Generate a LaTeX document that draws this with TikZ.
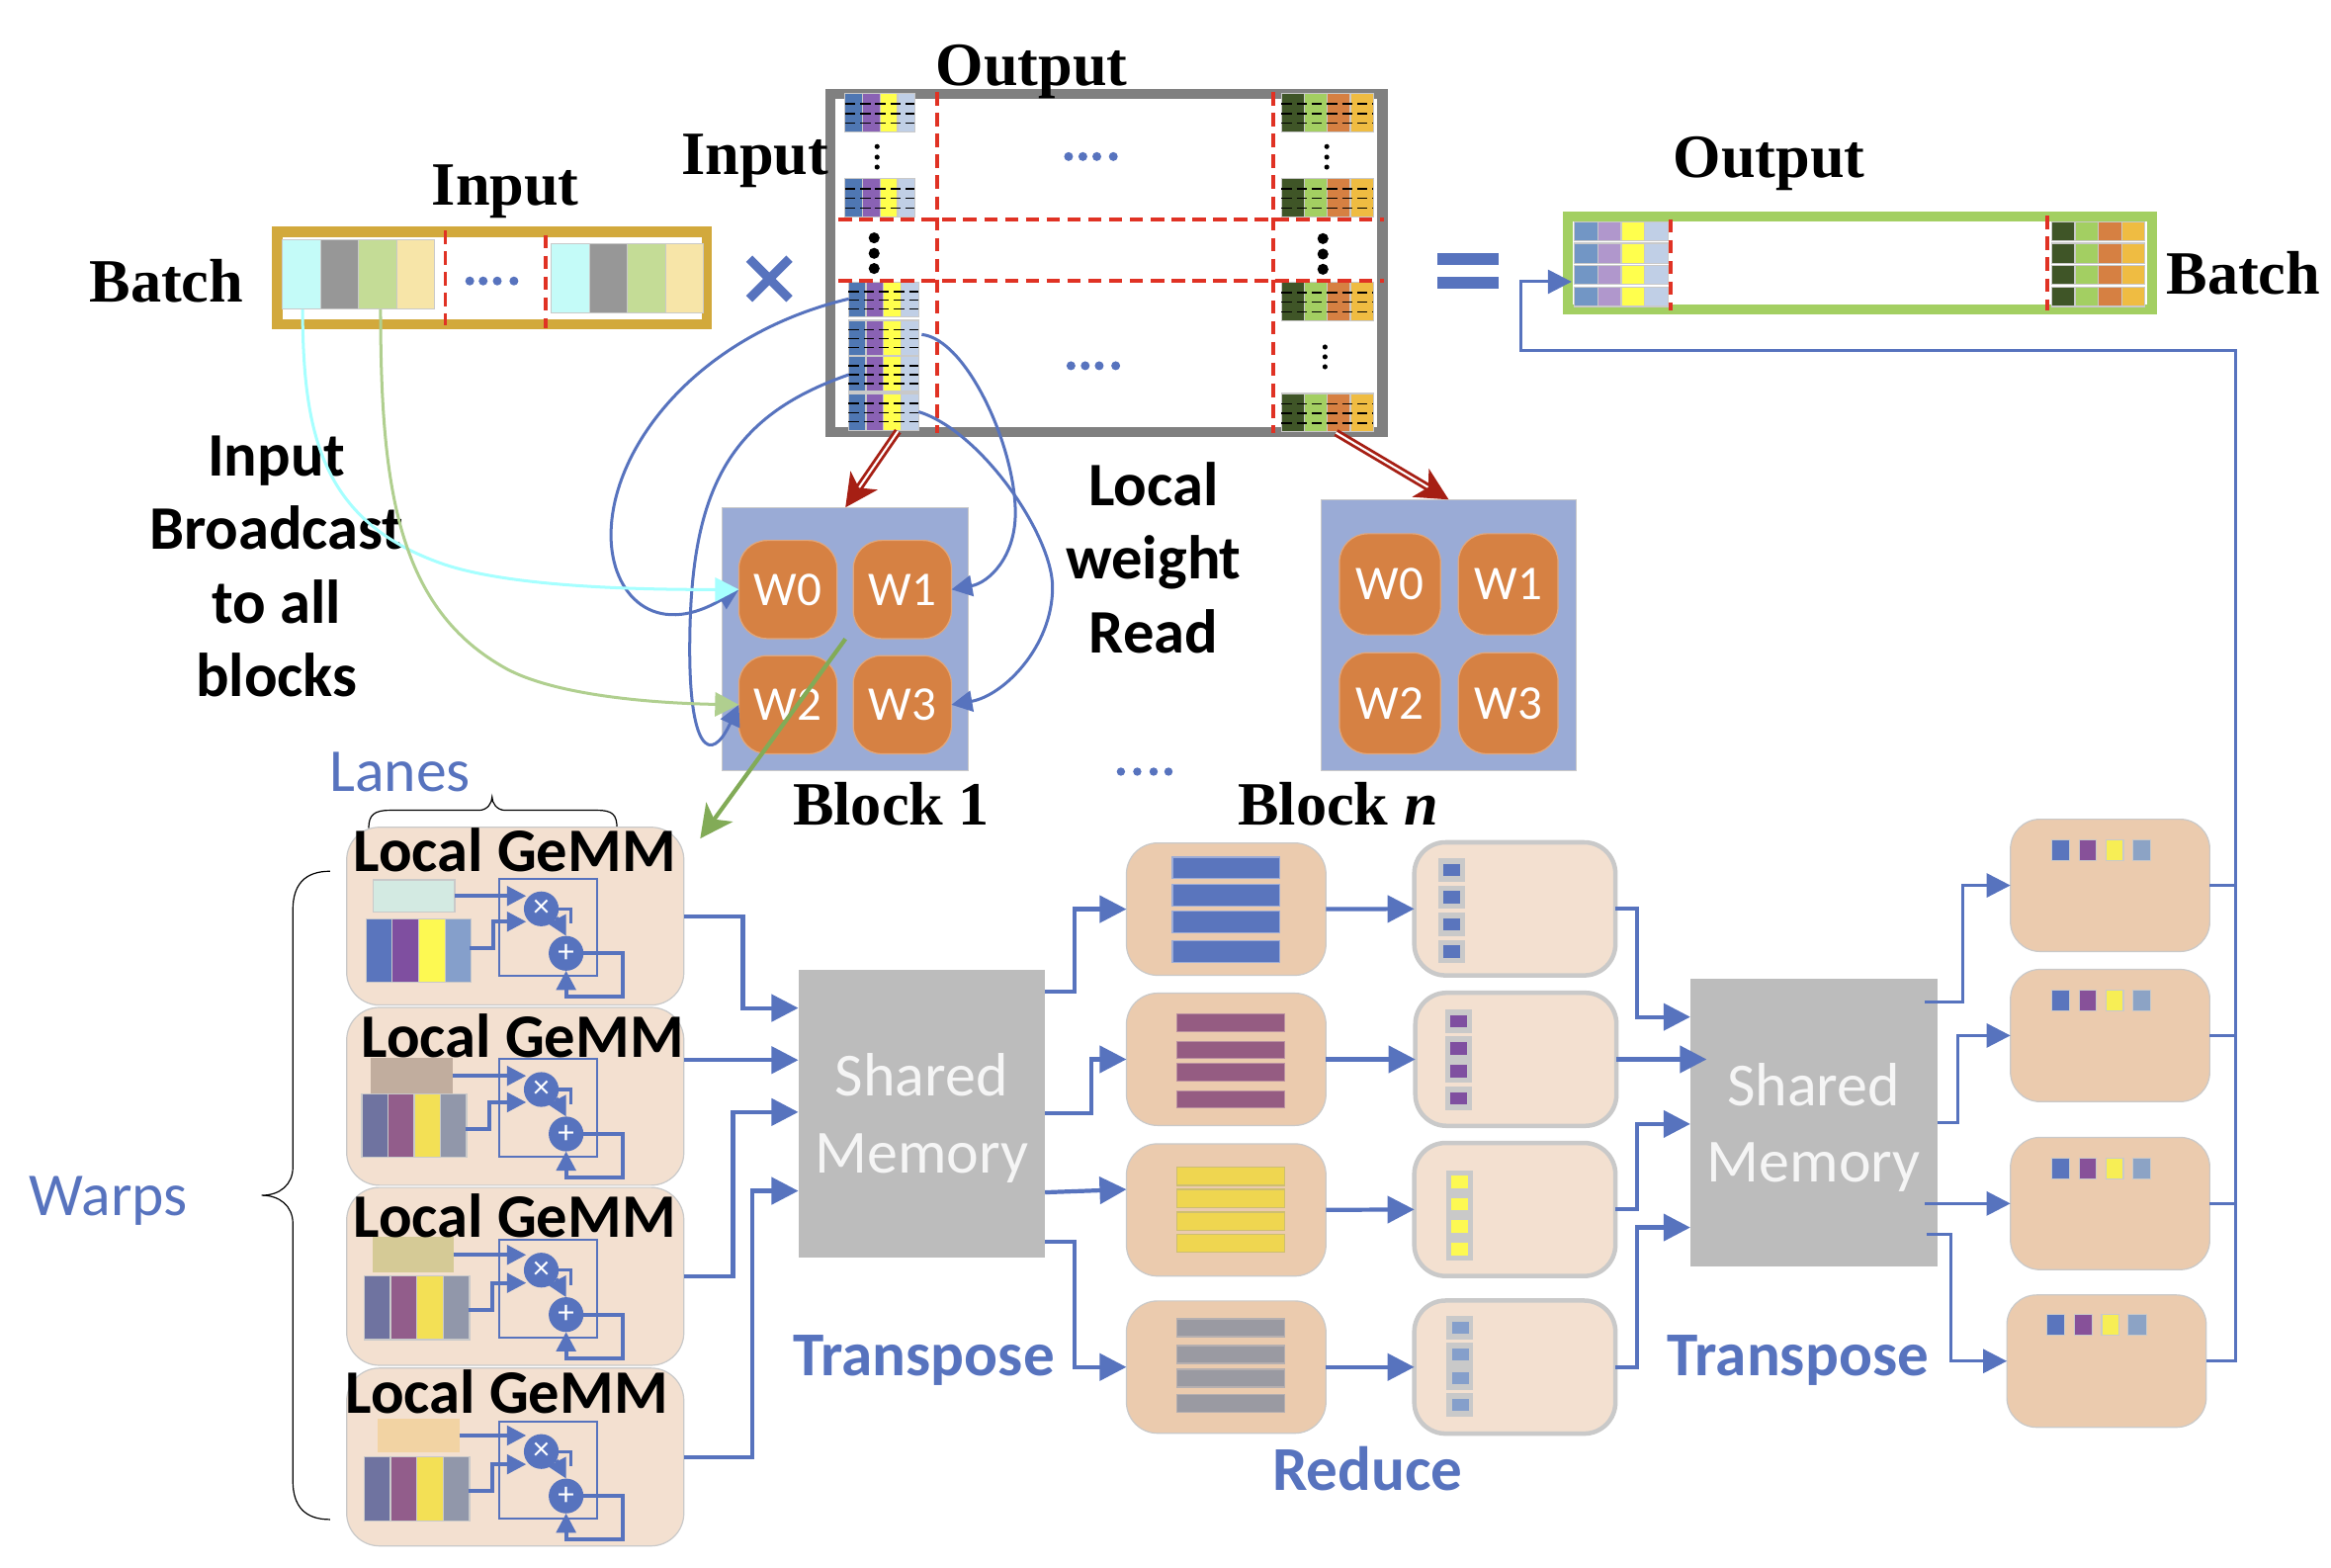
\documentclass[tikz,border=0pt]{standalone}
\usepackage{fontspec}
\setmainfont{Liberation Serif}
\newfontfamily\calfont{Carlito}
\usetikzlibrary{arrows.meta}
\definecolor{wblue}{HTML}{5773BE}
\definecolor{wgold}{HTML}{D2A93C}
\definecolor{wred}{HTML}{E03224}
\definecolor{wdarkred}{HTML}{A61F14}
\definecolor{wgray}{HTML}{808080}
\definecolor{wgreen}{HTML}{A3CF62}
\definecolor{woutline}{HTML}{C9C9C9}
\definecolor{wcyan}{HTML}{A6FFFF}
\definecolor{wsage}{HTML}{B0CF8F}
\definecolor{wmoss}{HTML}{82AB57}
\definecolor{mblue}{HTML}{4F77B3}
\definecolor{mpurple}{HTML}{8A62B4}
\definecolor{myellow}{HTML}{FFFF4D}
\definecolor{mlight}{HTML}{C0CFE6}
\definecolor{ndark}{HTML}{3F5527}
\definecolor{norange}{HTML}{D68042}
\definecolor{ngold}{HTML}{EFBC42}
\definecolor{iblue}{HTML}{C4FBF8}
\definecolor{igray}{HTML}{979797}
\definecolor{igreen}{HTML}{C4DC96}
\definecolor{ibeige}{HTML}{F7E5A8}
\definecolor{oblue}{HTML}{7296C5}
\definecolor{opurple}{HTML}{B097CC}
\definecolor{gblue}{HTML}{5A75BD}
\definecolor{gpurple}{HTML}{7F4FA0}
\definecolor{gyellow}{HTML}{FDF952}
\definecolor{gsteel}{HTML}{859FCB}
\definecolor{hblue}{HTML}{6F73A0}
\definecolor{hpurple}{HTML}{925D8B}
\definecolor{hyellow}{HTML}{F3E055}
\definecolor{hgray}{HTML}{9197AA}
\definecolor{redpurple}{HTML}{955C82}
\definecolor{redyellow}{HTML}{EFD650}
\definecolor{redgray}{HTML}{9A9AA2}
\definecolor{lpurple}{HTML}{875199}
\definecolor{lyellow}{HTML}{F7EE55}
\definecolor{lsteel}{HTML}{8CA3C5}
\definecolor{peach}{HTML}{F3E0D0}
\definecolor{tanbox}{HTML}{EBCBAE}
\definecolor{tile}{HTML}{D68143}
\definecolor{blockblue}{HTML}{9AABD6}
\definecolor{memgray}{HTML}{BCBCBC}
\definecolor{veca}{HTML}{D3EAE2}
\definecolor{vecb}{HTML}{C1AD9E}
\definecolor{vecc}{HTML}{D5CA96}
\definecolor{vecd}{HTML}{F2D3A3}
\tikzset{
 base/.style={inner sep=0pt,outer sep=0pt},
 boxwh/.style 2 args={base,minimum width=#1*0.5pt,minimum height=#2*0.5pt},
 serifbold/.style={font=\bfseries\fontsize{20.7}{24}\selectfont},
 sansbold/.style={font=\calfont\bfseries\fontsize{20.8}{24.75}\selectfont,align=center},
 sansblue/.style={font=\calfont\fontsize{20.5}{24}\selectfont,text=wblue},
 bluebold/.style={font=\calfont\bfseries\fontsize{21}{24.75}\selectfont,text=wblue},
 memtext/.style={font=\calfont\fontsize{20.6}{25.7}\selectfont,text=white!96!black,align=center},
 redline/.style={draw=wred,line width=1.25pt,dash pattern=on 4.5pt off 2.5pt},
 tinydash/.style={black,line width=0.45pt,dash pattern=on 3.5pt off 1.6pt},
 cell/.style={draw=woutline,line width=0.4pt},
 tilebox/.style={boxwh={66}{66},rounded corners=9.5pt,fill=tile,draw=tile!70!white,line width=0.4pt,
   text=white,font=\calfont\fontsize{16.3}{16}\selectfont},
 block/.style={fill=blockblue,draw=woutline,line width=0.3pt},
 gemmbox/.style={boxwh={226.8}{119.6},rounded corners=11pt,fill=peach,draw=woutline,line width=0.4pt},
 redbox/.style={boxwh={134.2}{89},rounded corners=10.5pt,fill=tanbox,draw=woutline,line width=0.4pt},
 sumbox/.style={boxwh={135.3}{89.5},rounded corners=10.5pt,fill=peach,draw=woutline,line width=1.5pt},
 lastbox/.style={boxwh={134.1}{89},rounded corners=10pt,fill=tanbox,draw=woutline,line width=0.4pt},
 memory/.style={boxwh={166}{194},fill=memgray},
 opnode/.style={base,circle,minimum size=11.7pt,fill=wblue,text=white,font=\calfont\fontsize{11}{11}\selectfont},
 conn/.style={draw=wblue,line width=1.4pt,-{Triangle[length=9pt,width=9pt]}},
 thinconn/.style={draw=wblue,line width=1pt,-{Triangle[length=8pt,width=8pt]}},
 busline/.style={draw=wblue,line width=1pt},
 curve/.style={draw=wblue,line width=1pt,-{Triangle[length=7pt,width=7pt]}},
 smallconn/.style={draw=wblue,line width=1.3pt,-{Triangle[length=6.5pt,width=6.5pt]}},
 readarrow/.style={draw=wdarkred,double=white,double distance=0.7pt,line width=0.95pt,
   -{Stealth[length=11pt,width=11pt,inset=3pt]}},
}
% four cells side by side: x0, width, y0, y1, colours
\newcommand{\cellrow}[8]{%
  \filldraw[cell,fill=#5] (#1,#3) rectangle ({#1+#2},#4);
  \filldraw[cell,fill=#6] ({#1+#2},#3) rectangle ({#1+2*#2},#4);
  \filldraw[cell,fill=#7] ({#1+2*#2},#3) rectangle ({#1+3*#2},#4);
  \filldraw[cell,fill=#8] ({#1+3*#2},#3) rectangle ({#1+4*#2},#4);
}
\newcommand{\dashes}[4]{%
  \foreach \f in {.27,.52,.77}
    \draw[tinydash] (#1,{#3+\f*(#4-#3)}) -- ++(#2,0);
}
\newcommand{\matleft}[3]{%
  \cellrow{#1}{11.8}{#2}{#3}{mblue}{mpurple}{myellow}{mlight}
  \dashes{#1}{47}{#2}{#3}
}
\newcommand{\matright}[2]{%
  \cellrow{861.9}{15.5}{#1}{#2}{ndark}{wgreen}{norange}{ngold}
  \dashes{861.9}{62}{#1}{#2}
}
% the adder and multiplier inside a GeMM box
\newcommand{\gemmcore}[4]{%
  \begin{scope}[shift={(0,#2)}]
    \draw[wblue,line width=0.65pt] (335.8,590.9) rectangle (401.8,656.5);
    \node[opnode] (mul#1) at (364.1,611.3) {×};
    \node[opnode] (add#1) at (380.8,641.2) {+};
    \coordinate (cellout#1) at (#3,638);
    \draw[smallconn] (cellout#1) -| (#4,619.9) -- (mul#1.210 |- 0,619.9);
    \draw[wblue,line width=1.1pt] (mul#1.east) -- ++(8,0) -- ++(0,10);
    \draw[smallconn] (mul#1.-30) -- (add#1.north);
    \draw[smallconn] (add#1.east) -| (418.9,670.4) -| (add#1.south);
  \end{scope}
}
\newcommand{\barrow}[5]{%
  \foreach \ya/\yb in {#5}
    \filldraw[fill=#1,draw=#2,line width=0.4pt] (#3,\ya) rectangle (#4,\yb);
}
\newcommand{\dotcell}[3]{%
  \fill[woutline] (#1,{#2-7.8}) rectangle ({#1+18},{#2+7.8});
  \fill[#3] ({#1+3.6},{#2-4.2}) rectangle ({#1+15},{#2+4.2});
}
\newcommand{\lastsquares}[2]{%
  \filldraw[cell,fill=gblue] (#1,#2) rectangle ({#1+12},{#2+14});
  \filldraw[cell,fill=lpurple] ({#1+18.5},#2) rectangle ({#1+30.3},{#2+14});
  \filldraw[cell,fill=lyellow] ({#1+36.7},#2) rectangle ({#1+48.4},{#2+14});
  \filldraw[cell,fill=lsteel] ({#1+54.4},#2) rectangle ({#1+66.8},{#2+14});
}

\begin{document}
\begin{tikzpicture}[x=0.5pt,y=-0.5pt]
    \useasboundingbox (0,0) rectangle (1568,1054);

    % batch input
    \node[boxwh={289.1}{62.1},draw=wgold,line width=3.45pt,fill=white] (inbox) at (331,187) {};
    \cellrow{190}{25.6}{161.4}{208}{iblue}{igray}{igreen}{ibeige}
    \cellrow{370.8}{25.6}{164}{210.6}{iblue}{igray}{igreen}{ibeige}
    \draw[redline] (299.6,155) -- (299.6,219);
    \draw[redline] (367,158) -- (367,221);
    \foreach \d in {316,325,334.5,345.7}
        \fill[wblue] (\d,189) circle (1.5pt);
    \coordinate (cellcyan) at (203.5,208);
    \coordinate (cellgreen) at (256,208);

    % weight matrix
    \node[boxwh={371.6}{227},draw=wgray,line width=3.4pt,fill=white] (matbox) at (744.2,176.9) {};
    \matleft{568.4}{62.7}{89}
    \matleft{568.4}{119.9}{145.8}
    \matleft{570.7}{190}{213}
    \matleft{570.7}{215.4}{239}
    \matleft{570.7}{239.8}{263.3}
    \matleft{570.7}{264.6}{289.4}
    \matright{62.7}{89}
    \matright{119.9}{145.8}
    \matright{190}{215.6}
    \matright{264.7}{290.4}
    \draw[redline] (630.6,62) -- (630.6,291.5);
    \draw[redline] (856.6,62) -- (856.6,291.5);
    \draw[redline] (564,147.4) -- (931,147.4);
    \draw[redline] (564,188.8) -- (931,188.8);
    \foreach \d in {98.6,105.7,112.4} {
        \fill (590,\d) circle (0.85pt);
        \fill (892.5,\d) circle (0.85pt);
    }
    \foreach \d in {233.4,240,246.7}
        \fill (891.3,\d) circle (0.85pt);
    \foreach \d in {160,170.4,180.6} {
        \fill (588,\d) circle (1.85pt);
        \fill (889.9,{\d+0.5}) circle (1.85pt);
    }
    \foreach \d in {718.8,728.4,737.8,748.9}
        \fill[wblue] (\d,105.3) circle (1.5pt);
    \foreach \d in {720.4,730,739.4,750.5}
        \fill[wblue] (\d,246) circle (1.5pt);

    % times and equals
    \draw[wblue,line width=3pt] (504,174) -- (531,201) (531,174) -- (504,201);
    \fill[wblue] (967,170) rectangle (1008,178);
    \fill[wblue] (967,186) rectangle (1008,194);

    % batch output
    \node[boxwh={393.1}{62.3},draw=wgreen,line width=3.3pt,fill=white] (outbox) at (1250.95,176.75) {};
    \foreach \ya/\yb in {149.2/161.8,163.6/177.3,178.4/191.3,193.3/206.1} {
        \cellrow{1059}{15.8}{\ya}{\yb}{oblue}{opurple}{myellow}{mlight}
        \cellrow{1380}{15.7}{\ya}{\yb}{ndark}{wgreen}{norange}{ngold}
    }
    \draw[redline] (1123.9,147.4) -- (1123.9,208.8);
    \draw[redline] (1377.3,145.2) -- (1377.3,208.8);

    % blocks
    \node[boxwh={165.8}{176.9},block] (block1) at (568.7,429.75) {};
    \node[tilebox] (w0) at (530,396.5) {W0};
    \node[tilebox] (w1) at (607,396.5) {W1};
    \node[tilebox] (w2) at (530,474) {W2};
    \node[tilebox] (w3) at (607,474) {W3};
    \node[boxwh={171}{182},block] (blockn) at (974.5,427) {};
    \node[tilebox,minimum width=34pt,minimum height=34pt] (nw0) at (935,393) {W0};
    \node[tilebox,minimum width=33.5pt,minimum height=34pt] (nw1) at (1014.5,393) {W1};
    \node[tilebox,minimum width=34pt,minimum height=34pt] (nw2) at (935,473) {W2};
    \node[tilebox,minimum width=33.5pt,minimum height=34pt] (nw3) at (1014.5,473) {W3};

    \coordinate (rowa) at (571,201);
    \coordinate (rowb) at (620,225);
    \coordinate (rowc) at (571,252);
    \coordinate (rowd) at (618,277);
    \draw[curve] (rowa) .. controls (470,225) and (411,300) .. (411,360)
        .. controls (411,400) and (440,430) .. (w0.west);
    \draw[curve] (rowc) .. controls (490,280) and (465,330) .. (464,430)
        .. controls (463,505) and (478,515) .. (w2.west);
    \draw[curve] (rowb) .. controls (650,228) and (683,300) .. (683,345)
        .. controls (683,375) and (665,392) .. (w1.east);
    \draw[curve] (rowd) .. controls (660,290) and (708,360) .. (708,395)
        .. controls (708,435) and (675,468) .. (w3.east);

    \coordinate (matfoot) at (604,290);
    \coordinate (matfootn) at (898.7,291);
    \draw[readarrow] (matfoot) -- (block1.north |- 0,341.3);
    \draw[readarrow] (matfootn) -- (blockn.north);

    % labels
    \node[serifbold] (lbinput) at (340,129) {Input};
    \node[serifbold] (lbbatch) at (112,189) {Batch};
    \node[serifbold] (lbinputb) at (508,108) {Input};
    \node[serifbold] (lboutput) at (694,48) {Output};
    \node[serifbold] (lboutputb) at (1190,110) {Output};
    \node[serifbold] (lbbatchb) at (1509,184) {Batch};
    \node[serifbold] (lbblock1) at (599.5,541) {Block 1};
    \node[serifbold] (lbblockn) at (900,541) {Block \textit{n}};
    \node[sansbold] (lbbroad) at (186,381) {Input\\Broadcast\\to all\\blocks};
    \node[sansbold] (lblocal) at (776,375) {Local\\weight\\Read};
    \node[sansblue] (lblanes) at (269,519) {Lanes};
    \node[sansblue] (lbwarps) at (73,808) {Warps};
    \foreach \d in {754,765,776,786}
        \fill[wblue] (\d,519) circle (1.4pt);

    % input broadcast
    \draw[draw=wcyan,line width=1pt,-{Triangle[length=8pt,width=8pt]}]
        (cellcyan) .. controls (204,290) and (215,350) .. (297,379)
        .. controls (340,394) and (420,396.7) .. (w0.west);
    \draw[draw=wsage,line width=1pt,-{Triangle[length=8pt,width=8pt]}]
        (cellgreen) .. controls (256,330) and (268,410) .. (341,450)
        .. controls (375,468) and (440,473) .. (w2.west);

    % braces
    \draw[line width=0.4pt] (248,557) .. controls (248,548) and (252,545) .. (262,545) -- (322,545)
        .. controls (328,545) and (331,540) .. (331,536)
        .. controls (331,540) and (334,545) .. (340,545) -- (402,545)
        .. controls (412,545) and (415,548) .. (415,557);
    \draw[line width=0.4pt] (222,586) .. controls (205,586) and (197,595) .. (197,612) -- (197,785)
        .. controls (197,797) and (188,804) .. (176,804)
        .. controls (188,804) and (197,811) .. (197,823) -- (197,996)
        .. controls (197,1013) and (205,1022) .. (222,1022);

    % local GeMM blocks
    \node[gemmbox] (gemm1) at (346.6,616.2) {};
    \node[gemmbox] (gemm2) at (346.6,737.4) {};
    \node[gemmbox] (gemm3) at (346.6,858.5) {};
    \node[gemmbox] (gemm4) at (346.6,980) {};
    \node[boxwh={54.9}{21.7},fill=veca,draw=woutline,line width=0.4pt] (vec1) at (278.4,602.6) {};
    \node[boxwh={55}{24.4},fill=vecb] (vec2) at (276.8,723.6) {};
    \node[boxwh={54}{24},fill=vecc] (vec3) at (278,844) {};
    \node[boxwh={55}{23},fill=vecd] (vec4) at (281.5,965.5) {};
    \cellrow{246.2}{17.7}{618}{660.5}{gblue}{gpurple}{gyellow}{gsteel}
    \cellrow{243.4}{17.6}{735.8}{778.6}{hblue}{hpurple}{hyellow}{hgray}
    \cellrow{245}{17.7}{858}{901}{hblue}{hpurple}{hyellow}{hgray}
    \cellrow{245}{17.7}{980}{1023}{hblue}{hpurple}{hyellow}{hgray}
    \node[sansbold] (lbgemm1) at (346.3,572) {Local GeMM};
    \node[sansbold] (lbgemm2) at (351.6,697) {Local GeMM};
    \node[sansbold] (lbgemm3) at (346.3,818) {Local GeMM};
    \node[sansbold] (lbgemm4) at (341,936) {Local GeMM};
    \gemmcore{1}{0}{315.8}{332}
    \gemmcore{2}{121.5}{313}{329}
    \gemmcore{3}{243}{315}{331}
    \gemmcore{4}{365}{315}{331}
    \draw[smallconn] (vec1.east) -- (vec1.east -| mul1.150);
    \draw[smallconn] (vec2.east) -- (vec2.east -| mul2.150);
    \draw[smallconn] (vec3.east) -- (vec3.east -| mul3.150);
    \draw[smallconn] (vec4.east) -- (vec4.east -| mul4.150);

    \coordinate (gemmtip) at (471,564);
    \draw[draw=wmoss,line width=1.4pt,-{Stealth[length=11pt,width=11pt,inset=3pt]}]
        (block1.center) -- (gemmtip);

    % shared memory
    \node[memory] (sm1) at (620,749) {};
    \node[memtext] (lbmem1) at (620,752) {Shared\\Memory};
    \node[memory] (sm2) at (1220,755) {};
    \node[memtext] (lbmem2) at (1220,758.5) {Shared\\Memory};

    \draw[conn] (gemm1.east) -- ++(39.7,0) |- (sm1.west |- 0,678);
    \draw[conn] (gemm2.east |- 0,713) -- (sm1.west |- 0,713);
    \draw[conn] (gemm3.east) -- ++(33,0) |- (sm1.west |- 0,748);
    \draw[conn] (gemm4.east) -- ++(46,0) |- (sm1.west |- 0,801);

    % reduce boxes
    \node[redbox] (reda) at (824.8,611.5) {};
    \node[redbox] (redb) at (824.8,712.5) {};
    \node[redbox] (redc) at (824.8,813.8) {};
    \node[redbox] (redd) at (824.8,919.5) {};
    \barrow{gblue}{gblue!60!white}{788.6}{861}{576.5/591,594.6/609.3,612.8/627.5,632.5/647.1}
    \barrow{redpurple}{redpurple!60!peach}{791.5}{864}{682/693.7,700.3/712,715.4/727.2,733.6/745.3}
    \barrow{redyellow}{redyellow!60!redgray}{791.5}{864}{785/797.3,800/812.3,815.2/827.4,830.3/842.4}
    \barrow{redgray}{redgray!70!peach}{791.5}{864}{887/899,905/917,921/933,938/950}

    \node[sumbox] (suma) at (1019,611.3) {};
    \node[sumbox] (sumb) at (1019.7,712.5) {};
    \node[sumbox] (sumc) at (1019,813.5) {};
    \node[sumbox] (sumd) at (1019,919.5) {};
    \foreach \d in {585.2,603.5,621.7,639.9} {
        \dotcell{967.3}{\d}{gblue}
    }
    \foreach \d in {687,705,720.3,738.7} {
        \dotcell{972}{\d}{gpurple}
    }
    \foreach \d in {794.8,810,825,840} {
        \dotcell{972.6}{\d}{gyellow}
    }
    \foreach \d in {893,911,927,945} {
        \dotcell{973}{\d}{gsteel}
    }

    \draw[conn] (sm1.east |- 0,667) -- ++(20,0) |- (reda.west);
    \draw[conn] (sm1.east |- 0,749) -- ++(31,0) |- (redb.west);
    \draw[conn] (sm1.east |- 0,802) -- (redc.west |- 0,800);
    \draw[conn] (sm1.east |- 0,835) -- ++(20,0) |- (redd.west);
    \draw[conn] (reda.east) -- (suma.west);
    \draw[conn] (redb.east) -- (sumb.west);
    \draw[conn] (redc.east) -- (sumc.west);
    \draw[conn] (redd.east) -- (sumd.west);
    \draw[conn] (suma.east) -- ++(14.5,0) |- (sm2.west |- 0,684);
    \draw[conn] (sumb.east) -- (1148,712.5);
    \draw[conn] (sumc.east) -- ++(14.5,0) |- (sm2.west |- 0,756);
    \draw[conn] (sumd.east) -- ++(14.5,0) |- (sm2.west |- 0,825.6);

    \node[bluebold] (lbtrans1) at (621.5,915) {Transpose};
    \node[bluebold] (lbtrans2) at (1209.5,915) {Transpose};
    \node[bluebold] (lbreduce) at (920,988) {Reduce};

    % last column and feedback bus
    \node[lastbox] (lasta) at (1419.4,595.5) {};
    \node[lastbox] (lastb) at (1419.4,696.5) {};
    \node[lastbox] (lastc) at (1419.4,809.5) {};
    \node[lastbox] (lastd) at (1417,915.5) {};
    \lastsquares{1380}{565}
    \lastsquares{1380}{666}
    \lastsquares{1380}{779}
    \lastsquares{1377}{884}

    \draw[thinconn] ([xshift=-4pt]sm2.east |- 0,674) -- ++(25,0) |- (lasta.west);
    \draw[thinconn] (sm2.east |- 0,755) -- ++(14,0) |- (lastb.west);
    \draw[thinconn] ([xshift=-4pt]sm2.east |- 0,809.5) -- (lastc.west);
    \draw[thinconn] ([xshift=-3.5pt]sm2.east |- 0,830) -- ++(16,0) |- (lastd.west);

    \coordinate (bustop) at (1504,236);
    \coordinate (busleft) at (1023,236);
    \draw[thinconn] (lastd.east) -| (bustop) -- (busleft) |- ([xshift=1.4pt]outbox.west |- 0,189.5);
    \draw[busline] (lasta.east) -- (lasta.east -| bustop);
    \draw[busline] (lastb.east) -- (lastb.east -| bustop);
    \draw[busline] (lastc.east) -- (lastc.east -| bustop);
\end{tikzpicture}
\end{document}
